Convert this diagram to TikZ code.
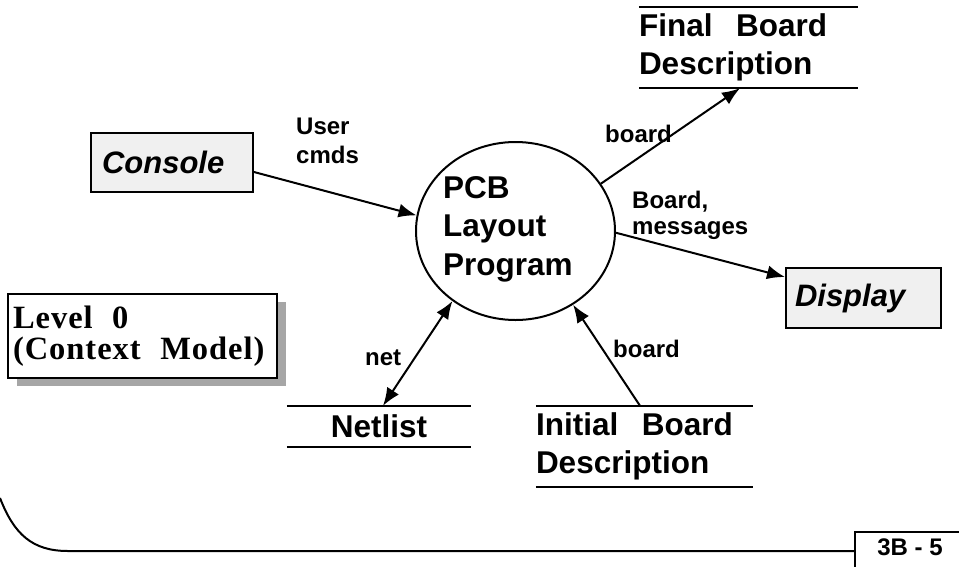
\documentclass[tikz,border=0pt]{standalone}
\usepackage{fontspec}
\setmainfont{Liberation Sans}
\newfontfamily\titleserif[LetterSpace=3]{Liberation Serif}
\newcommand\widegap{\hspace*{0.75em}}
\newcommand\titlegap{\hspace*{0.6em}}
\usetikzlibrary{arrows.meta,shapes.geometric}
\begin{document}
\begin{tikzpicture}[x=1pt,y=-1pt,
  big/.style={font=\fontsize{31.5}{38.5}\selectfont\bfseries, inner sep=0pt},
  lbl/.style={font=\fontsize{24}{29}\selectfont\bfseries, inner sep=0pt, align=left, anchor=north west},
  ext/.style={draw, line width=2pt, fill=black!6, inner ysep=0pt, align=left,
    font=\fontsize{31}{36}\selectfont\bfseries\itshape},
  flow/.style={line width=2pt, -{Latex[length=18pt,width=14pt]}},
  store/.style={line width=2.5pt}]
\useasboundingbox (0,0) rectangle (959,566);

% external entities
\node[ext, text width=140pt, inner xsep=11pt, minimum height=59pt] (console) at (172,162.5) {Console};
\node[ext, text width=137pt, inner xsep=9pt, minimum height=60pt] (display) at (863.5,298) {Display};

% title box with drop shadow
\fill[black!35] (17,302) rectangle (286,386);
\node[draw, fill=white, line width=2pt, anchor=north west, minimum width=269pt, minimum height=84pt,
  inner xsep=5pt, inner ysep=0pt, text width=259pt, align=left,
  font=\fontsize{32.5}{31}\selectfont\bfseries\titleserif] (level) at (7,293)
  {Level\titlegap 0\\(Context\titlegap Model)};

% process
\node[draw, ellipse, line width=2pt, minimum width=199pt, minimum height=178pt, inner sep=0pt] (prog) at (515.5,231) {};
\node[big, align=left, anchor=north west] (progtext) at (443,176) {PCB\\Layout\\Program};

% data stores
\node[big, minimum width=219pt, minimum height=81pt, text width=219pt, align=left] (final) at (748.5,47.5) {Final\widegap Board\\Description};
\draw[store] (final.north west) -- (final.north east);
\draw[store] (final.south west) -- (final.south east);

\node[big, minimum width=184pt, minimum height=41pt, text width=184pt, align=center] (netlist) at (379,426.5) {Netlist};
\draw[store] (netlist.north west) -- (netlist.north east);
\draw[store] (netlist.south west) -- (netlist.south east);

\node[big, minimum width=217pt, minimum height=81pt, text width=217pt, align=left] (initial) at (644.5,446.5) {Initial\widegap Board\\Description};
\draw[store] (initial.north west) -- (initial.north east);
\draw[store] (initial.south west) -- (initial.south east);

% data flows
\draw[flow] ([yshift=-9.5pt]console.east) -- (prog.171);
\draw[flow] (prog.29) -- ([xshift=-8.5pt]final.south);
\draw[flow] (prog.-1) -- ([yshift=21pt]display.west);
\draw[line width=2pt, {Latex[length=18pt,width=14pt]}-{Latex[length=18pt,width=14pt]}] ([xshift=4pt]netlist.north) -- (prog.228);
\draw[flow] ([xshift=-4.5pt]initial.north) -- (prog.-52);

% flow labels
\node[lbl] (usercmds) at (296,118) {User\\cmds};
\node[lbl] (boardout) at (605,125) {board};
\node[lbl, font=\fontsize{24}{26}\selectfont\bfseries] (boardmsg) at (632,191) {Board,\\messages};
\node[lbl] (netlbl) at (365,350) {net};
\node[lbl] (boardin) at (613,340) {board};

% page frame and page number
\draw[line width=2pt] (0,498) .. controls (14,534) and (32,551) .. (68,551) -- (855,551);
\draw[line width=2pt] (855,570) -- (855,532) -- (965,532);
\node[font=\fontsize{24}{26}\selectfont\bfseries, inner sep=0pt] (pagenum) at (910,547) {3B - 5};
\end{tikzpicture}
\end{document}
